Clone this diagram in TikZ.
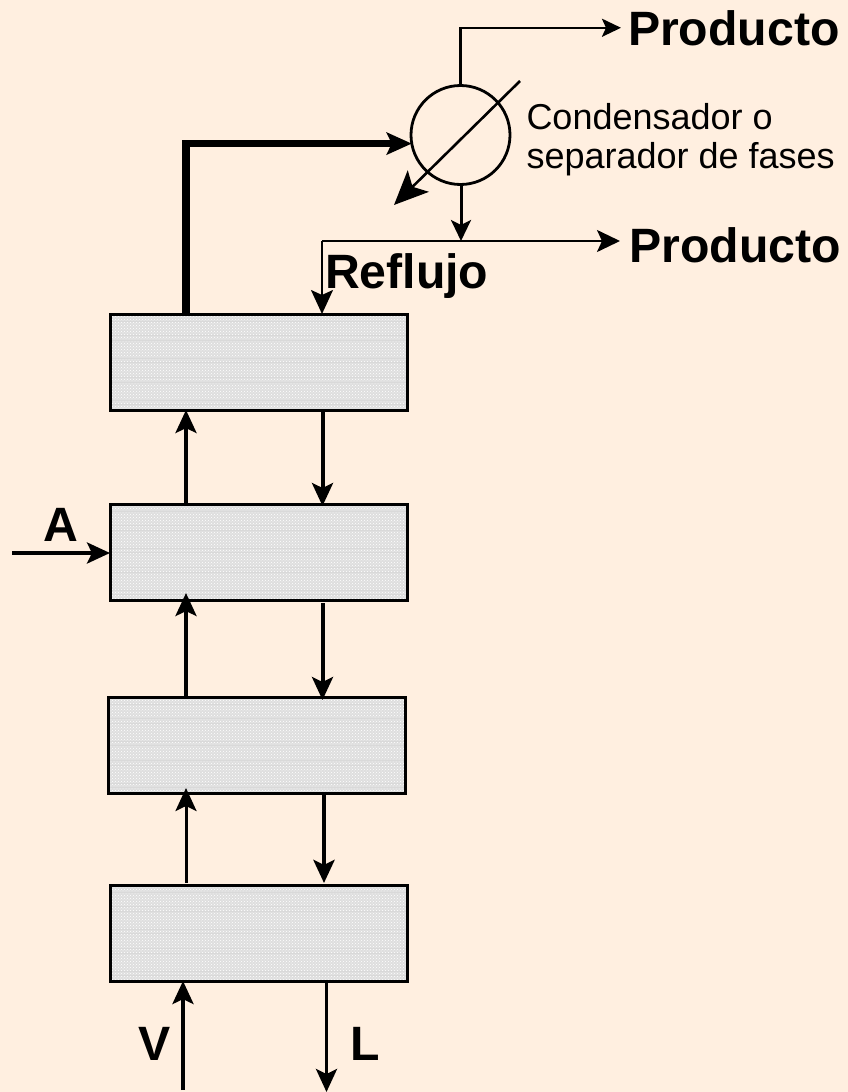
\documentclass[tikz,border=0pt]{standalone}
\usepackage{fontspec}
\setmainfont{Liberation Sans}
\usetikzlibrary{arrows.meta,patterns}
\definecolor{paper}{HTML}{FFEFE0}

\begin{document}
\begin{tikzpicture}[ x=1pt, y=-1pt,
    every node/.append style={inner sep=0pt, outer sep=0pt},
    plate/.style={draw, line width=3pt, minimum width=297pt, minimum height=96pt,
        preaction={fill=black!13}, pattern=crosshatch dots, pattern color=white,
        path picture={
          \foreach \rowy in {7,21,26,44,48,63,68,86,90}
            \draw[white!85!black, line width=1pt] (path picture bounding box.north west) ++(0,\rowy) -- ++(300,0);
        }},
    flow/.style={draw, line width=4pt, -{Stealth[length=23pt,width=21pt,inset=5pt]}},
    thinflow/.style={draw, line width=2.2pt, -{Stealth[length=21pt,width=20pt,inset=5pt]}},
    bigname/.style={font=\fontsize{48.2}{50}\selectfont\bfseries}]
  \useasboundingbox[fill=paper] (0,0) rectangle (848,1092);

  \node[plate] (plate1) at (258.5,362) {};
  \node[plate] (plate2) at (258.5,552) {};
  \node[plate] (plate3) at (256.5,745) {};
  \node[plate] (plate4) at (258.5,933) {};
  \node[draw, circle, line width=2.8pt, minimum size=99pt] (cond) at (460.5,135) {};

  \node[bigname, anchor=base west] (prodtop) at (628,45) {Producto};
  \node[bigname, anchor=base west] (prodlow) at (629.5,262) {Producto};
  \node[bigname, anchor=base west] (reflujo) at (325,288) {Reflujo};
  \node[bigname, anchor=base] (feed) at (61,541) {A};
  \node[bigname, anchor=base] (vapor) at (155,1060) {V};
  \node[bigname, anchor=base west] (liquid) at (350,1060) {L};
  \node[anchor=west, align=left, font=\fontsize{36}{39}\selectfont] (condname) at (526.5,139.5)
    {Condensador o\\separador de fases};

  \coordinate (upx) at (186,0);
  \coordinate (downx) at (322.5,0);
  \coordinate (tee) at (461,241);
  \coordinate (refl) at (322,241);
  \coordinate (feedin) at (12,553);
  \coordinate (vin) at (183,1090);
  \coordinate (lout) at (326.5,1092);
  \coordinate (coolin) at (520,81);
  \coordinate (coolout) at (394,205);

  % vapor up, liquid down
  \draw[flow] (plate2.north -| upx) -- (plate1.south -| upx);
  \draw[flow, shorten >=-7pt] (plate3.north -| upx) -- (plate2.south -| upx);
  \draw[flow, line width=3pt, shorten >=-5pt, shorten <=2pt] (plate4.north -| upx) -- (plate3.south -| upx);
  \draw[flow, shorten >=-2pt] (plate1.south -| downx) -- (plate2.north -| downx);
  \draw[flow, shorten >=-3pt, shorten <=3pt] (plate2.south -| downx) -- (plate3.north -| downx);
  \draw[flow, line width=4.5pt, shorten >=2pt, shorten <=2pt] (plate3.south -| 324,0) -- (plate4.north -| 324,0);
  \draw[flow] (feedin) -- (plate2.west |- feedin);
  \draw[flow] (vin) -- (plate4.south -| vin);
  \draw[flow, line width=3.3pt] (plate4.south -| lout) -- (lout);

  % top of the column
  \draw[flow, line width=7.5pt, -{Stealth[length=25pt,width=22pt,inset=5pt]}] (plate1.north -| upx) |- (cond.190);
  \draw[thinflow, line width=2.5pt, shorten >=7pt, -{Stealth[length=19pt,width=18pt,inset=4pt]}] (cond.north) |- (prodtop.west);
  \draw[thinflow, line width=3pt] (cond.south -| tee) -- (tee);
  \draw[thinflow, shorten >=9.5pt, -{Stealth[length=23pt,width=22pt,inset=5pt]}] (refl) -- (tee -| prodlow.west);
  \draw[thinflow, -{Stealth[length=24pt,width=22pt,inset=5pt]}] (refl) -- (plate1.north -| refl);
  \draw[thinflow, line width=2.6pt, -{Stealth[length=34pt,width=30pt,inset=8pt]}] (coolin) -- (coolout);
\end{tikzpicture}
\end{document}
